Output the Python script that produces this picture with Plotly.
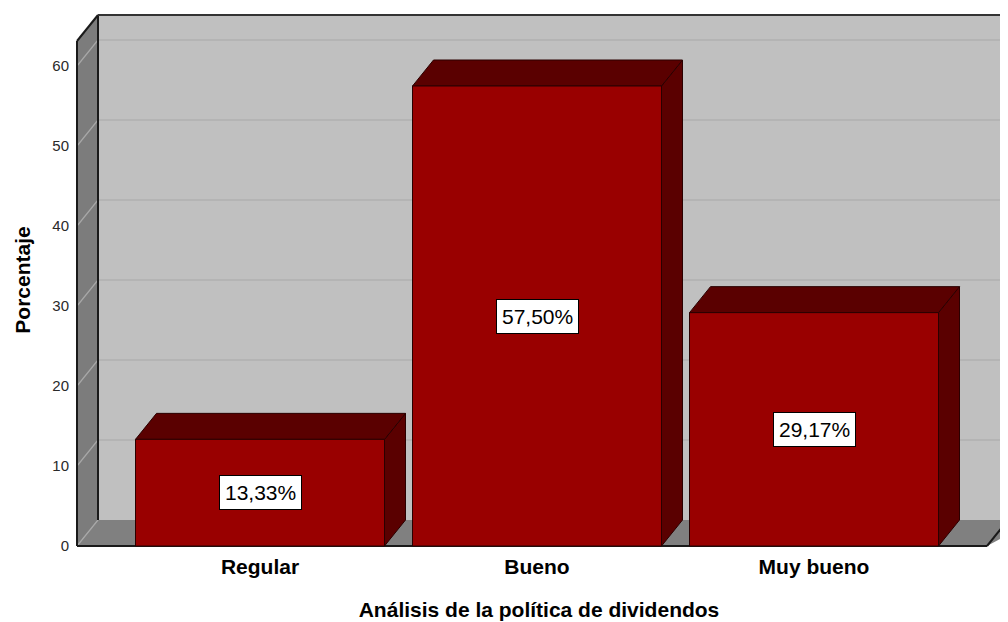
import plotly.graph_objects as go

categories = ["Regular", "Bueno", "Muy bueno"]
percentages = [13.33, 57.50, 29.17]
value_labels = ["13,33%", "57,50%", "29,17%"]
y_ticks = [0, 10, 20, 30, 40, 50, 60]

# geometry (data units); page has an 8px body margin, figure is 1000x614
PX_X = 277.0   # px per category unit
PX_Y = 8.0     # px per percentage unit
C0 = 252.0     # figure px of first category centre
DX = 21 / PX_X
DY = 26 / PX_Y
HALF = 124.5 / PX_X
LEFT = (69 - C0) / PX_X
RIGHT_FRONT = (979 - C0) / PX_X
X_MIN = (62 - C0) / PX_X
X_MAX = (1000 - C0) / PX_X
TOP_BACK = (538 - 7) / PX_Y
TOP_FRONT = TOP_BACK - DY
Y_MIN = -0.75
Y_MAX = 538 / PX_Y

FRONT = "#990000"
DARK = "#5a0000"
EDGE = "#2a0000"

fig = go.Figure()

# bars
for i, v in enumerate(percentages):
    c = i
    x0, x1 = c - HALF, c + HALF
    faces = [
        ([x1, x1 + DX, x1 + DX, x1, x1], [0, DY, v + DY, v, 0], DARK),
        ([x0, x1, x1 + DX, x0 + DX, x0], [v, v, v + DY, v + DY, v], DARK),
        ([x0, x1, x1, x0, x0], [0, 0, v, v, 0], FRONT),
    ]
    for xs, ys, col in faces:
        fig.add_trace(go.Scatter(x=xs, y=ys, mode="lines", fill="toself",
                                 fillcolor=col, line=dict(color=EDGE, width=1),
                                 hoverinfo="skip", showlegend=False))
    fig.add_annotation(x=c, y=v / 2, text=value_labels[i], showarrow=False,
                       bgcolor="white", bordercolor="black", borderwidth=1,
                       borderpad=5,
                       font=dict(family="Liberation Sans, Arial", size=21, color="black"))

shapes = []
# back wall
shapes.append(dict(type="rect", x0=LEFT + DX, x1=X_MAX + 0.1, y0=DY, y1=TOP_BACK,
                   fillcolor="#c0c0c0", line=dict(width=0), layer="below"))
# left wall
shapes.append(dict(type="path",
                   path=f"M {LEFT},0 L {LEFT},{TOP_FRONT} L {LEFT+DX},{TOP_BACK} L {LEFT+DX},{DY} Z",
                   fillcolor="#7c7c7c", line=dict(width=0), layer="below"))
# floor
shapes.append(dict(type="path",
                   path=f"M {LEFT},0 L {LEFT+DX},{DY} L {X_MAX+0.1},{DY} L {RIGHT_FRONT},0 Z",
                   fillcolor="#808080", line=dict(width=0), layer="below"))
# gridlines
for t in y_ticks:
    shapes.append(dict(type="line", x0=LEFT, y0=t, x1=LEFT + DX, y1=t + DY,
                       line=dict(color="#a8a8a8", width=1.2), layer="below"))
    if t > 0:
        shapes.append(dict(type="line", x0=LEFT + DX, y0=t + DY, x1=X_MAX + 0.1, y1=t + DY,
                           line=dict(color="#a8a8a8", width=1.2), layer="below"))
# edges
edge = dict(color="#1a1a1a", width=2)
shapes += [
    dict(type="line", x0=LEFT, y0=0, x1=LEFT, y1=TOP_FRONT, line=edge, layer="below"),
    dict(type="line", x0=LEFT, y0=TOP_FRONT, x1=LEFT + DX, y1=TOP_BACK, line=edge, layer="below"),
    dict(type="line", x0=LEFT + DX, y0=DY, x1=LEFT + DX, y1=TOP_BACK, line=edge, layer="below"),
    dict(type="line", x0=LEFT + DX, y0=TOP_BACK, x1=X_MAX + 0.1, y1=TOP_BACK,
         line=dict(color="#333333", width=2), layer="below"),
    dict(type="line", x0=LEFT, y0=0, x1=RIGHT_FRONT, y1=0, line=edge, layer="below"),
    dict(type="line", x0=RIGHT_FRONT, y0=0, x1=RIGHT_FRONT + DX, y1=DY, line=edge, layer="below"),
]

fig.update_layout(
    width=1000, height=614,
    margin=dict(l=62, r=0, t=0, b=70),
    paper_bgcolor="white", plot_bgcolor="white",
    shapes=shapes,
    font=dict(family="Liberation Sans, Arial", color="black"),
    xaxis=dict(range=[X_MIN, X_MAX], tickmode="array", tickvals=[0, 1, 2],
               ticktext=categories, showgrid=False, zeroline=False, showline=False,
               ticks="", ticklabelstandoff=0, automargin=False,
               tickfont=dict(family="Liberation Sans, Arial", size=21, color="black", weight="bold"),
               title=dict(text="<b>Análisis de la política de dividendos</b>", standoff=25,
                          font=dict(family="Liberation Sans, Arial", size=21, color="black"))),
    yaxis=dict(range=[Y_MIN, Y_MAX], tickmode="array", tickvals=y_ticks,
               showgrid=False, zeroline=False, showline=False, ticks="",
               ticklabelstandoff=0, automargin=False,
               tickfont=dict(family="Liberation Sans, Arial", size=15, color="#2a2a2a"),
               title=dict(text="<b>Porcentaje</b>", standoff=15,
                          font=dict(family="Liberation Sans, Arial", size=21, color="black"))),
)

fig.write_html("out.html")
